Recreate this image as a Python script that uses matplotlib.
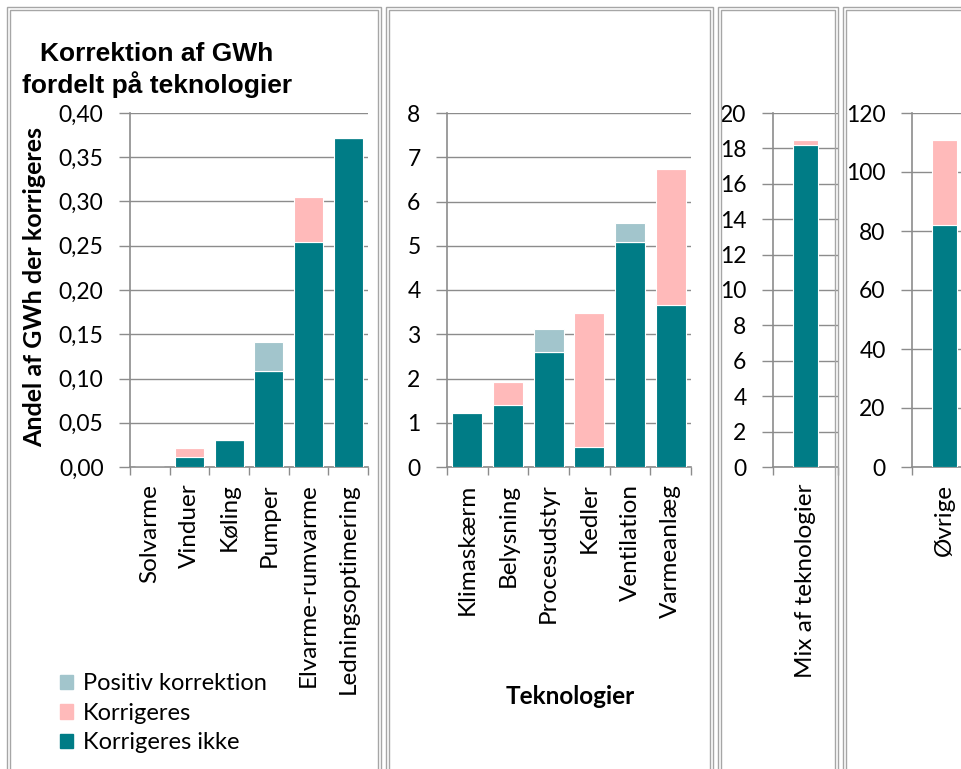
import matplotlib
matplotlib.use("Agg")
import matplotlib.pyplot as plt
from matplotlib.patches import Rectangle, Patch
from matplotlib.ticker import FuncFormatter, FixedLocator, NullFormatter

# --- data ---
tek1 = ["Solvarme", "Vinduer", "Køling", "Pumper", "Elvarme-rumvarme", "Ledningsoptimering"]
ikke1 = [0.0, 0.011, 0.030, 0.108, 0.254, 0.372]
korr1 = [0.0, 0.010, 0.0, 0.0, 0.051, 0.0]
pos1 = [0.0, 0.0, 0.0, 0.033, 0.0, 0.0]

tek2 = ["Klimaskærm", "Belysning", "Procesudstyr", "Kedler", "Ventilation", "Varmeanlæg"]
ikke2 = [1.21, 1.40, 2.59, 0.45, 5.09, 3.66]
korr2 = [0.04, 0.53, 0.0, 3.02, 0.0, 3.07]
pos2 = [0.0, 0.0, 0.52, 0.0, 0.43, 0.0]

tek3 = ["Mix af teknologier"]
ikke3 = [18.17]
korr3 = [0.30]
pos3 = [0.0]

tek4 = ["Øvrige"]
ikke4 = [82.0]
korr4 = [28.9]
pos4 = [0.0]

TEAL = "#007c86"
PINK = "#ffbaba"
LBLUE = "#a2c5cc"
GREY = "#8c8c8c"
BOX = "#a6a6a6"
TICKFONT = "Lato"

W, H = 962, 769
fig = plt.figure(figsize=(W / 100, H / 100), dpi=100)


def px_axes(x0, x1, y0, y1):
    return fig.add_axes([x0 / W, 1 - y1 / H, (x1 - x0) / W, (y1 - y0) / H])


def draw_panel(ax, cats, ikke, korr, pos, ymax, step, width, fmt):
    n = len(cats)
    x = list(range(n))
    bottoms2 = ikke
    bottoms3 = [a + b for a, b in zip(ikke, korr)]
    ax.bar(x, ikke, width, color=TEAL, edgecolor="white", linewidth=0.8, zorder=3)
    ax.bar(x, korr, width, bottom=bottoms2, color=PINK, edgecolor="white", linewidth=0.8, zorder=3)
    ax.bar(x, pos, width, bottom=bottoms3, color=LBLUE, edgecolor="white", linewidth=0.8, zorder=3)
    ax.set_xlim(-0.5, n - 0.5)
    ax.set_ylim(0, ymax)
    yt = [i * step for i in range(int(round(ymax / step)) + 1)]
    ax.set_yticks(yt)
    ax.yaxis.set_major_formatter(FuncFormatter(fmt))
    ax.yaxis.grid(True, color=GREY, linewidth=1.0, zorder=0)
    ax.set_xticks(x)
    ax.set_xticklabels(cats, rotation=90, fontsize=17.5, family=TICKFONT)
    ax.tick_params(axis="x", length=0, pad=12)
    ax.xaxis.set_minor_locator(FixedLocator([i - 0.5 for i in range(n + 1)]))
    ax.xaxis.set_minor_formatter(NullFormatter())
    ax.tick_params(axis="x", which="minor", length=6, color=GREY, width=1)
    ax.tick_params(axis="y", length=8, color=GREY, width=1, labelsize=16.5, pad=11)
    for lab in ax.get_yticklabels():
        lab.set_family(TICKFONT)
    for s in ["top", "right"]:
        ax.spines[s].set_visible(False)
    for s in ["left", "bottom"]:
        ax.spines[s].set_color(GREY)
        ax.spines[s].set_linewidth(1.2)
    ax.set_facecolor("none")


# panel borders
for x0, x1 in [(7, 381), (386, 713), (718, 838), (843, 975)]:
    for off in (0, 3):
        fig.patches.append(Rectangle(((x0 + off) / W, -0.1), (x1 - x0 - 2 * off) / W,
                                     1.1 - (7 + off) / H, transform=fig.transFigure,
                                     fill=False, edgecolor=BOX, linewidth=1.0, zorder=0))

ax1 = px_axes(130, 368, 113, 467)
draw_panel(ax1, tek1, ikke1, korr1, pos1, 0.40, 0.05, 0.73,
           lambda v, p: f"{v:.2f}".replace(".", ","))
ax2 = px_axes(447, 691, 113, 467)
draw_panel(ax2, tek2, ikke2, korr2, pos2, 8, 1, 0.73, lambda v, p: f"{v:.0f}")
ax3 = px_axes(773, 838, 113, 467)
draw_panel(ax3, tek3, ikke3, korr3, pos3, 20, 2, 0.385, lambda v, p: f"{v:.0f}")
ax4 = px_axes(912, 977, 113, 467)
draw_panel(ax4, tek4, ikke4, korr4, pos4, 120, 20, 0.385, lambda v, p: f"{v:.0f}")

fig.text(157 / W, 1 - 70 / H, "Korrektion af GWh\nfordelt på teknologier", ha="center", va="center",
         fontsize=19, fontweight="bold", family="Liberation Sans", linespacing=1.2)
fig.text(35 / W, 1 - 287 / H, "Andel af GWh der korrigeres", rotation=90, ha="center", va="center",
         fontsize=18, fontweight="bold", family=TICKFONT)
fig.text(570 / W, 1 - 697 / H, "Teknologier", ha="center", va="center",
         fontsize=17.5, fontweight="bold", family=TICKFONT)

handles = [Patch(color=LBLUE, label="Positiv korrektion"),
           Patch(color=PINK, label="Korrigeres"),
           Patch(color=TEAL, label="Korrigeres ikke")]
fig.legend(handles=handles, loc="upper left", bbox_to_anchor=(51 / W, 1 - 664 / H),
           frameon=False, prop={"family": TICKFONT, "size": 17}, handlelength=0.55,
           handleheight=0.55, handletextpad=0.4, labelspacing=0.36, borderaxespad=0)

fig.savefig("out.png", dpi=100)
